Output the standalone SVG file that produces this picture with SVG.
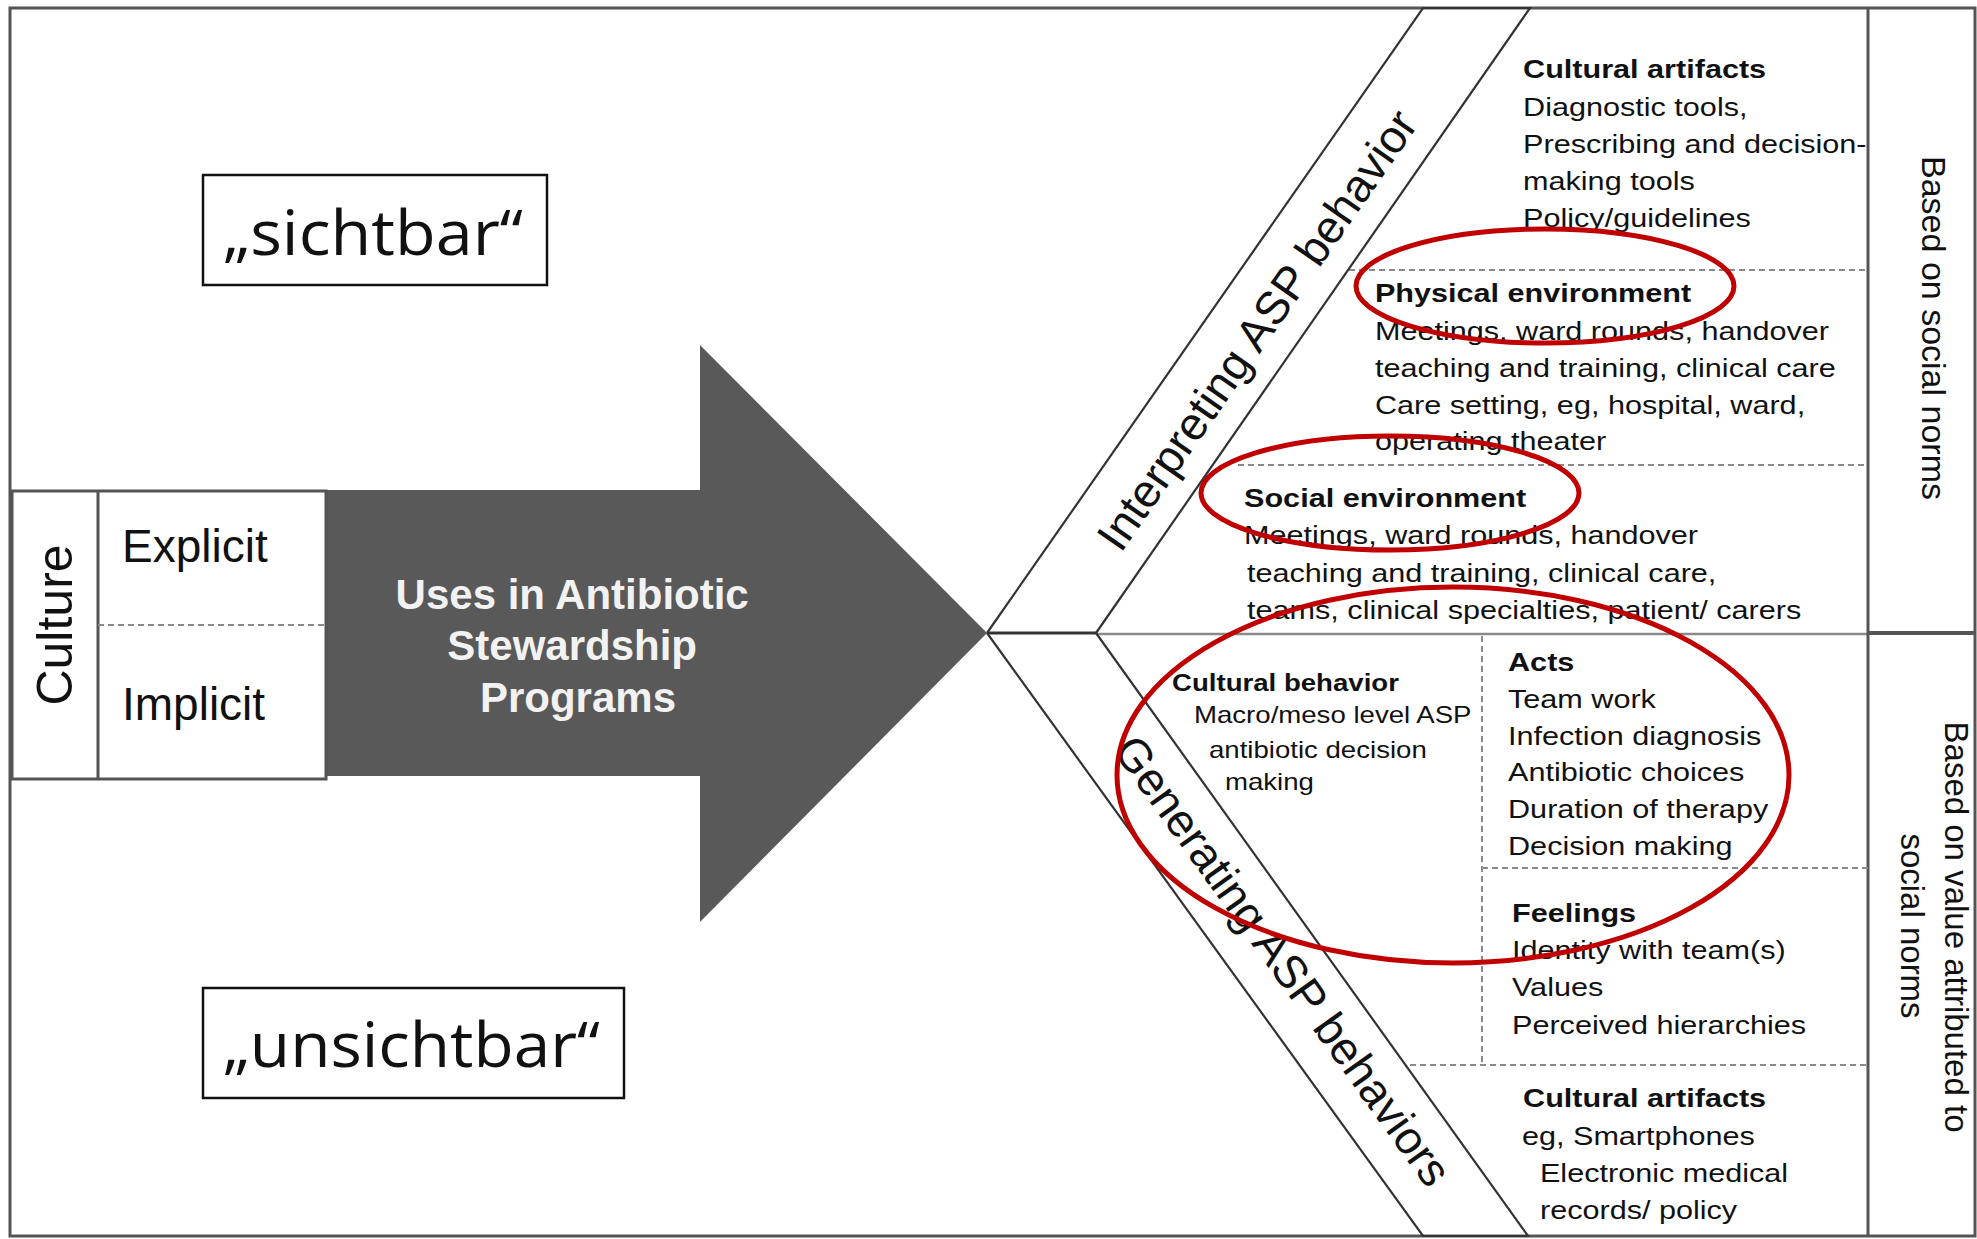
<svg xmlns="http://www.w3.org/2000/svg" width="1977" height="1239" viewBox="0 0 1977 1239">
<style>
  .t { font-family: "Liberation Sans", Arial, sans-serif; fill: #111; }
  .b { font-weight: bold; }
  .r { font-size: 25.5px; }
  .s { font-size: 23px; }
  .q { font-family: "Open Sans", "Noto Sans", sans-serif; font-size: 62px; fill: #111; }
  .frame { fill: none; stroke: #555; stroke-width: 3; }
  .band { fill: none; stroke: #333; stroke-width: 2.2; }
  .dash { fill: none; stroke: #8a8a8a; stroke-width: 2; stroke-dasharray: 6 4; }
  .ring { fill: none; stroke: #C00000; stroke-width: 5; }
  .w { font-family: "Liberation Sans", Arial, sans-serif; font-weight: bold; font-size: 42px; fill: #f2f2f2; }
</style>
<rect width="1977" height="1239" fill="#fff"/>

<!-- outer frame -->
<rect class="frame" x="10" y="8" width="1965" height="1228"/>

<g id="arrow">
  <polygon points="326,490 700,490 700,345 987,633 700,922 700,776 326,776" fill="#595959"/>
  <text class="w" text-anchor="middle">
    <tspan x="578" y="609">Uses in Antibiotic</tspan>
    <tspan x="578" y="660">Stewardship</tspan>
    <tspan x="578" y="712">Programs</tspan>
  </text>
</g>

<g id="culture">
  <rect x="12" y="491" width="314" height="288" fill="#fff" stroke="#555" stroke-width="3"/>
  <line x1="98" y1="491" x2="98" y2="779" stroke="#555" stroke-width="3"/>
  <line x1="98" y1="625" x2="326" y2="625" class="dash"/>
  <text class="t" font-size="50" text-anchor="middle" transform="translate(72,625) rotate(-90)">Culture</text>
  <text class="t" font-size="46" x="122" y="562">Explicit</text>
  <text class="t" font-size="46" x="122" y="720">Implicit</text>
</g>

<g id="sichtbar">
  <rect x="203" y="175" width="344" height="110" fill="#fff" stroke="#111" stroke-width="2.5"/>
  <text class="q" x="223" y="255" textLength="300" lengthAdjust="spacingAndGlyphs">„sichtbar“</text>
</g>

<g id="unsichtbar">
  <rect x="203" y="988" width="421" height="110" fill="#fff" stroke="#111" stroke-width="2.5"/>
  <text class="q" x="223" y="1067" textLength="377" lengthAdjust="spacingAndGlyphs">„unsichtbar“</text>
</g>

<g id="connectors">
  <line x1="987" y1="633" x2="1096" y2="633" stroke="#333" stroke-width="3"/>
  <line x1="1096" y1="634" x2="1868" y2="634" stroke="#8a8a8a" stroke-width="2.5"/>
  <line x1="1868" y1="633" x2="1975" y2="633" stroke="#555" stroke-width="4"/>
  <line x1="1868" y1="8" x2="1868" y2="1236" stroke="#555" stroke-width="3"/>
  <line class="dash" x1="1349" y1="270" x2="1868" y2="270"/>
  <line class="dash" x1="1238" y1="465" x2="1868" y2="465"/>
  <line class="dash" x1="1482" y1="636" x2="1482" y2="1065"/>
  <line class="dash" x1="1482" y1="868" x2="1868" y2="868"/>
  <line class="dash" x1="1410" y1="1065" x2="1868" y2="1065"/>
</g>

<g id="band-interpreting">
  <polyline class="band" points="987,633 1423,8 1530,8 1096,633"/>
  <text class="t" font-size="46" text-anchor="middle" transform="translate(1270,339) rotate(-55.2)">Interpreting ASP behavior</text>
</g>

<g id="band-generating">
  <polyline class="band" points="987,633 1423,1236 1528,1236 1096,633"/>
  <text class="t" font-size="46" text-anchor="middle" transform="translate(1270,970) rotate(54.3)">Generating ASP behaviors</text>
</g>

<g id="artifacts-top">
  <g transform="scale(1.2,1)">
    <text class="t r b" x="1269.2" y="78">Cultural artifacts</text>
    <text class="t r" x="1269.2" y="116">Diagnostic tools,</text>
    <text class="t r" x="1269.2" y="153">Prescribing and decision-</text>
    <text class="t r" x="1269.2" y="190">making tools</text>
    <text class="t r" x="1269.2" y="227">Policy/guidelines</text>
  </g>
</g>

<g id="physical-env">
  <g transform="scale(1.2,1)">
    <text class="t r b" x="1145.8" y="302">Physical environment</text>
    <text class="t r" x="1145.8" y="340">Meetings, ward rounds, handover</text>
    <text class="t r" x="1145.8" y="377">teaching and training, clinical care</text>
    <text class="t r" x="1145.8" y="414">Care setting, eg, hospital, ward,</text>
    <text class="t r" x="1145.8" y="450">operating theater</text>
  </g>
</g>

<g id="social-env">
  <g transform="scale(1.2,1)">
    <text class="t r b" x="1036.7" y="507">Social environment</text>
    <text class="t r" x="1036.7" y="544">Meetings, ward rounds, handover</text>
    <text class="t r" x="1039.2" y="582">teaching and training, clinical care,</text>
    <text class="t r" x="1039.2" y="619">teams, clinical specialties, patient/ carers</text>
  </g>
</g>

<g id="cultural-behavior">
  <g transform="scale(1.2,1)">
    <text class="t s b" x="976.7" y="691">Cultural behavior</text>
    <text class="t s" x="995" y="723">Macro/meso level ASP</text>
    <text class="t s" x="1007.5" y="758">antibiotic decision</text>
    <text class="t s" x="1020.8" y="790">making</text>
  </g>
</g>

<g id="acts">
  <g transform="scale(1.2,1)">
    <text class="t r b" x="1256.7" y="671">Acts</text>
    <text class="t r" x="1256.7" y="708">Team work</text>
    <text class="t r" x="1256.7" y="745">Infection diagnosis</text>
    <text class="t r" x="1256.7" y="781">Antibiotic choices</text>
    <text class="t r" x="1256.7" y="818">Duration of therapy</text>
    <text class="t r" x="1256.7" y="855">Decision making</text>
  </g>
</g>

<g id="feelings">
  <g transform="scale(1.2,1)">
    <text class="t r b" x="1260" y="922">Feelings</text>
    <text class="t r" x="1260" y="959">Identity with team(s)</text>
    <text class="t r" x="1260" y="996">Values</text>
    <text class="t r" x="1260" y="1034">Perceived hierarchies</text>
  </g>
</g>

<g id="artifacts-bottom">
  <g transform="scale(1.2,1)">
    <text class="t r b" x="1269.2" y="1107">Cultural artifacts</text>
    <text class="t r" x="1268.3" y="1145">eg, Smartphones</text>
    <text class="t r" x="1283.3" y="1182">Electronic medical</text>
    <text class="t r" x="1283.3" y="1219">records/ policy</text>
  </g>
</g>

<g id="norms-top">
  <text class="t" font-size="34" text-anchor="middle" transform="translate(1922,328) rotate(90)">Based on social norms</text>
</g>

<g id="norms-bottom">
  <text class="t" font-size="33" text-anchor="middle" transform="translate(1945,927) rotate(90)">Based on value attributed to</text>
  <text class="t" font-size="33" text-anchor="middle" transform="translate(1901,926) rotate(90)">social norms</text>
</g>

<g id="highlights">
  <ellipse class="ring" cx="1545" cy="286" rx="189" ry="57"/>
  <ellipse class="ring" cx="1390" cy="493" rx="189" ry="57"/>
  <ellipse class="ring" cx="1453" cy="775" rx="336" ry="188"/>
</g>
</svg>
